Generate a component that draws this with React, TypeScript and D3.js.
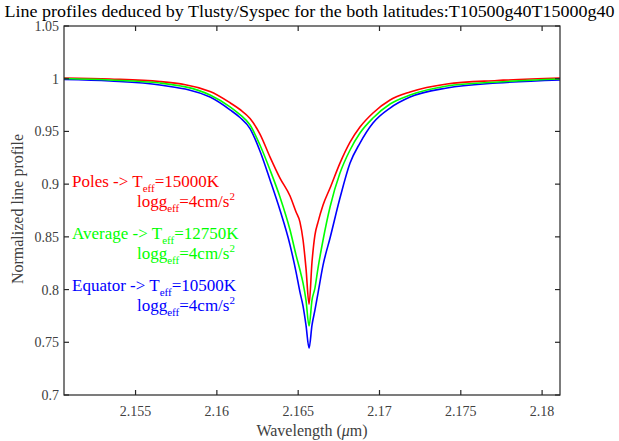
import React from "react";
import * as d3 from "d3";

const wavelength = [2.1506, 2.15343, 2.1565, 2.15958, 2.16081, 2.16142, 2.16204, 2.16265, 2.16327, 2.16388, 2.1645, 2.16487, 2.16511, 2.1653, 2.16548, 2.16567, 2.16585, 2.16603, 2.16622, 2.16653, 2.16696, 2.16757, 2.16819, 2.1688, 2.1696, 2.17065, 2.17188, 2.17415, 2.17723, 2.1811];
const polesValues = [1.0007, 0.9997, 0.9973, 0.9879, 0.9772, 0.9708, 0.9622, 0.9475, 0.9257, 0.9058, 0.8887, 0.8735, 0.864, 0.847, 0.8204, 0.7862, 0.8261, 0.8517, 0.864, 0.8802, 0.8963, 0.92, 0.9399, 0.9542, 0.9675, 0.9798, 0.9874, 0.995, 0.9983, 1.0007];
const averageValues = [1.0002, 0.9988, 0.9959, 0.9845, 0.9733, 0.966, 0.9561, 0.9371, 0.9134, 0.8878, 0.8565, 0.8327, 0.8185, 0.8062, 0.79, 0.7654, 0.79, 0.8014, 0.8204, 0.847, 0.8783, 0.9105, 0.9324, 0.9485, 0.9627, 0.976, 0.9845, 0.9931, 0.9969, 0.9997];
const equatorValues = [0.9992, 0.9978, 0.994, 0.9826, 0.9705, 0.9632, 0.9527, 0.9314, 0.9039, 0.8754, 0.8422, 0.8166, 0.7976, 0.7843, 0.7663, 0.7445, 0.7663, 0.7805, 0.7967, 0.8232, 0.8489, 0.8868, 0.92, 0.939, 0.958, 0.9722, 0.9826, 0.9912, 0.9959, 0.9988];

const xTicks = [2.155, 2.16, 2.165, 2.17, 2.175, 2.18];
const xTickLabels = ["2.155", "2.16", "2.165", "2.17", "2.175", "2.18"];
const yTicks = [0.7, 0.75, 0.8, 0.85, 0.9, 0.95, 1, 1.05];
const yTickLabels = ["0.7", "0.75", "0.8", "0.85", "0.9", "0.95", "1", "1.05"];

const seriesNames = ["Poles", "Average", "Equator"];
const seriesTemps = ["15000K", "12750K", "10500K"];
const seriesColors = ["#ff0000", "#00ff00", "#0000ff"];

const W = 619, H = 441;
const L = 64, R = 560, T = 26, B = 395;
const FONT = "'Liberation Serif', 'DejaVu Serif', serif";

export default function App() {
  const x = d3.scaleLinear().domain([2.1506, 2.1811]).range([L, R]);
  const y = d3.scaleLinear().domain([0.7, 1.05]).range([B, T]);
  const line = d3.line<number>()
    .x((_, i) => x(wavelength[i]))
    .y((d) => y(d))
    .curve(d3.curveMonotoneX);
  const allSeries = [polesValues, averageValues, equatorValues];
  const drawOrder = [0, 2, 1];
  const tick = 5;
  const axisColor = "#262626";
  const labelColor = "#404040";
  const legendY = [187, 239, 291];

  return (
    <div style={{ position: "fixed", left: 0, top: 0 }}>
      <svg width={W} height={H} style={{ display: "block", background: "#fff" }}>
        <text x={W / 2} y={17} textAnchor="middle" fontFamily={FONT} fontSize={16} fill="#000" textLength={610} lengthAdjust="spacingAndGlyphs">
          Line profiles deduced by Tlusty/Syspec for the both latitudes:T10500g40T15000g40
        </text>
        <defs>
          <clipPath id="plotclip">
            <rect x={L} y={T} width={R - L} height={B - T} />
          </clipPath>
        </defs>
        <g clipPath="url(#plotclip)">
          {drawOrder.map((si) => (
            <path key={si} d={line(allSeries[si]) || ""} fill="none" stroke={seriesColors[si]} strokeWidth={1.6} />
          ))}
        </g>
        <rect x={L} y={T} width={R - L} height={B - T} fill="none" stroke={axisColor} strokeWidth={1.2} />
        {xTicks.map((t, i) => (
          <g key={"x" + i}>
            <line x1={x(t)} x2={x(t)} y1={B} y2={B - tick} stroke={axisColor} strokeWidth={1.2} />
            <line x1={x(t)} x2={x(t)} y1={T} y2={T + tick} stroke={axisColor} strokeWidth={1.2} />
            <text x={x(t)} y={416} textAnchor="middle" fontFamily={FONT} fontSize={14} fill={labelColor}>{xTickLabels[i]}</text>
          </g>
        ))}
        {yTicks.map((t, i) => (
          <g key={"y" + i}>
            <line x1={L} x2={L + tick} y1={y(t)} y2={y(t)} stroke={axisColor} strokeWidth={1.2} />
            <line x1={R} x2={R - tick} y1={y(t)} y2={y(t)} stroke={axisColor} strokeWidth={1.2} />
            <text x={59} y={y(t) + 5} textAnchor="end" fontFamily={FONT} fontSize={14} fill={labelColor}>{yTickLabels[i]}</text>
          </g>
        ))}
        <text x={(L + R) / 2} y={436} textAnchor="middle" fontFamily={FONT} fontSize={16} fill={labelColor}>
          Wavelength (<tspan fontStyle="italic">μ</tspan>m)
        </text>
        <text transform={`translate(23,209) rotate(-90)`} textAnchor="middle" fontFamily={FONT} fontSize={16} fill={labelColor}>
          Normalized line profile
        </text>
        {seriesNames.map((n, i) => (
          <g key={"lg" + i} fontFamily={FONT} fontSize={17} fill={seriesColors[i]}>
            <text x={72} y={legendY[i]}>
              {n} -&gt; T<tspan fontSize={11} dy={5}>eff</tspan><tspan dy={-5}>={seriesTemps[i]}</tspan>
            </text>
            <text x={137} y={legendY[i] + 20}>
              logg<tspan fontSize={11} dy={5}>eff</tspan><tspan dy={-5}>=4cm/s</tspan><tspan fontSize={11} dy={-7}>2</tspan>
            </text>
          </g>
        ))}
      </svg>
    </div>
  );
}
